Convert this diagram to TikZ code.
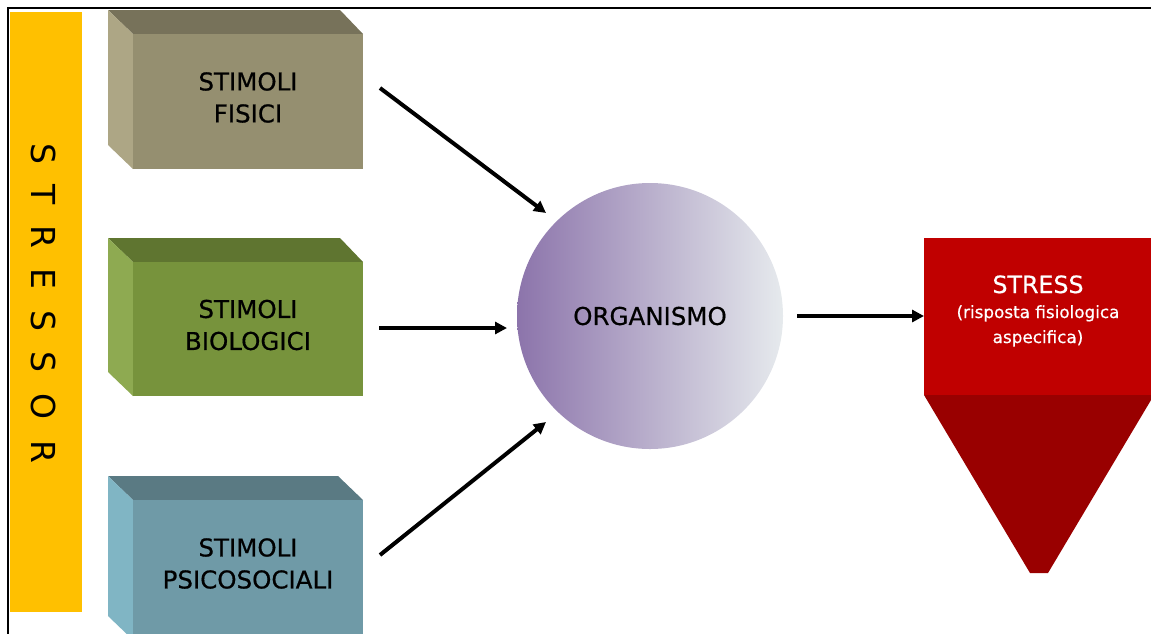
\documentclass[tikz,border=0pt]{standalone}
\usepackage{fontspec}
\setmainfont{DejaVu Sans}
\newfontfamily\tahlike{DejaVu Sans}[FakeBold=0.6]
\usetikzlibrary{arrows.meta}
\definecolor{barYellow}{HTML}{FFC000}
\definecolor{bOneFront}{HTML}{958F70}
\definecolor{bOneTop}{HTML}{77725A}
\definecolor{bOneSide}{HTML}{ADA685}
\definecolor{bTwoFront}{HTML}{77933C}
\definecolor{bTwoTop}{HTML}{5F7530}
\definecolor{bTwoSide}{HTML}{8EAA51}
\definecolor{bThreeFront}{HTML}{6F9AA7}
\definecolor{bThreeTop}{HTML}{5A7A83}
\definecolor{bThreeSide}{HTML}{80B5C4}
\definecolor{orgLeft}{HTML}{8C74AB}
\definecolor{orgRight}{HTML}{E6EAED}
\definecolor{stressRed}{HTML}{C00000}
\definecolor{stressDark}{HTML}{990000}
\tikzset{
  face/.style={inner sep=0pt, outer sep=0pt, minimum width=230pt, minimum height=135pt},
  boxtext/.style={align=center, font=\tahlike\fontsize{24.5}{32}\selectfont, text=black},
  arr/.style={line width=4pt, -{Triangle[length=12pt,width=12pt]}},
}
\begin{document}
\begin{tikzpicture}[x=1pt,y=-1pt]
\useasboundingbox (0,0) rectangle (1151,633);
% frame
\draw[line width=2pt] (8,640) -- (8,8) -- (1160,8);
% yellow bar
\fill[barYellow] (10,12) rectangle (82,612);
\node[rotate=-90, inner sep=0pt, font=\fontsize{33}{33}\selectfont] (stressor) at (44,303)
  {S\hspace{20.6pt}T\hspace{20.6pt}R\hspace{20.6pt}E\hspace{20.6pt}S\hspace{20.6pt}S\hspace{20.6pt}O\hspace{20.6pt}R};
% box 1
\fill[bOneTop] (108,10) -- (340,10) -- (363,34) -- (133,34) -- cycle;
\fill[bOneSide] (108,10) -- (133,34) -- (133,169) -- (108,145) -- cycle;
\node[face, fill=bOneFront, anchor=north west] (b1) at (133,34) {};
\node[boxtext, yshift=4pt] (t1) at (b1.center) {STIMOLI\\FISICI};
% box 2
\fill[bTwoTop] (108,238) -- (340,238) -- (363,262) -- (133,262) -- cycle;
\fill[bTwoSide] (108,238) -- (133,262) -- (133,396) -- (108,372) -- cycle;
\node[face, fill=bTwoFront, anchor=north west, minimum height=134pt] (b2) at (133,262) {};
\node[boxtext, yshift=4pt] (t2) at (b2.center) {STIMOLI\\BIOLOGICI};
% box 3
\fill[bThreeTop] (108,476) -- (338,476) -- (363,500) -- (133,500) -- cycle;
\fill[bThreeSide] (108,476) -- (133,500) -- (133,640) -- (108,616) -- cycle;
\node[face, fill=bThreeFront, anchor=north west] (b3) at (133,500) {};
\node[boxtext, yshift=4pt] (t3) at (b3.center) {STIMOLI\\PSICOSOCIALI};
% organismo
\node[circle, minimum size=266pt, inner sep=0pt, left color=orgLeft, right color=orgRight,
      middle color=orgLeft!50!orgRight, font=\tahlike\fontsize{24.5}{30}\selectfont] (org) at (650,316) {ORGANISMO};
% stress shape
\node[inner sep=0pt, outer sep=0pt, minimum width=230pt, minimum height=157pt, fill=stressRed, anchor=north west] (stress) at (924,238) {};
\fill[stressDark] (stress.south west) -- (stress.south east) -- (1048,573) -- (1030,573) -- cycle;
\node[anchor=base, text=white, font=\tahlike\fontsize{23.7}{28}\selectfont] (st1) at (1038,293) {STRESS};
\node[anchor=base, text=white, font=\tahlike\fontsize{16.8}{25}\selectfont] (st2) at (1038,318) {(risposta fisiologica};
\node[anchor=base, text=white, font=\tahlike\fontsize{16.8}{25}\selectfont] (st3) at (1038,343) {aspecifica)};
% arrows
\coordinate (a1s) at (380,88);   \coordinate (a1e) at (546,213);
\coordinate (a2s) at (379,328);  \coordinate (a2e) at (507,328);
\coordinate (a3s) at (380,555);  \coordinate (a3e) at (546,422);
\coordinate (a4s) at (797,316);
\draw[arr] (a1s) -- (a1e);
\draw[arr] (a2s) -- (a2e);
\draw[arr] (a3s) -- (a3e);
\draw[arr] (a4s) -- (stress.west |- a4s);
\end{tikzpicture}
\end{document}
